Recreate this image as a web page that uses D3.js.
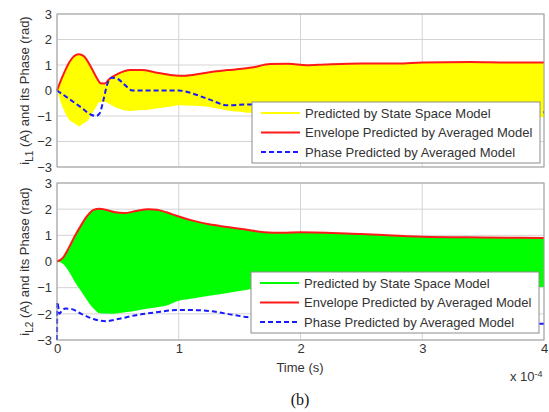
<!DOCTYPE html>
<html>
<head>
<meta charset="utf-8">
<script src="https://cdn.jsdelivr.net/npm/d3@7"></script>
<style>
    body { margin: 0; background: #fff; }
    svg { display: block; font-family: "Liberation Sans", Arial, sans-serif; }
</style>
</head>
<body>
<svg id="chart" width="549" height="412"></svg>
<script>
// time axis is in units of 1e-4 s
const xTicks = [0, 1, 2, 3, 4];
const yTicks = [-3, -2, -1, 0, 1, 2, 3];
const legendLabels = ['Predicted by State Space Model', 'Envelope Predicted by Averaged Model', 'Phase Predicted by Averaged Model'];

// panel 1 : iL1
const envTimeL1 = [0, 0.05, 0.1, 0.15, 0.18, 0.22, 0.27, 0.32, 0.36, 0.39, 0.43, 0.5, 0.6, 0.7, 0.8, 0.95, 1.05, 1.2, 1.4, 1.5, 1.6, 1.75, 1.9, 2.05, 2.2, 2.5, 2.8, 3.0, 3.4, 3.7, 4.0];
const envL1 = [0, 0.6, 1.1, 1.38, 1.42, 1.35, 1.0, 0.55, 0.28, 0.27, 0.45, 0.65, 0.8, 0.8, 0.72, 0.6, 0.58, 0.68, 0.8, 0.84, 0.9, 1.04, 1.05, 0.99, 1.02, 1.06, 1.06, 1.1, 1.12, 1.1, 1.1];
const lowTimeL1 = [0, 0.05, 0.1, 0.18, 0.25, 0.3, 0.35, 0.4, 0.5, 0.6, 0.75, 1.0, 1.2, 1.4, 1.6, 2.0, 3.0, 4.0];
const lowL1 = [0, -0.7, -1.15, -1.4, -1.2, -0.8, -0.45, -0.45, -0.7, -0.8, -0.75, -0.58, -0.62, -0.78, -0.88, -0.95, -1.02, -1.05];
const phaseTimeL1 = [0, 0.1, 0.2, 0.28, 0.32, 0.35, 0.38, 0.41, 0.45, 0.5, 0.55, 0.62, 0.8, 1.0, 1.1, 1.25, 1.4, 1.55, 1.7, 2.0, 3.0, 4.0];
const phaseL1 = [0, -0.33, -0.67, -0.95, -1.0, -0.9, -0.4, 0.2, 0.5, 0.45, 0.25, 0.0, 0.0, 0.0, -0.1, -0.35, -0.58, -0.55, -0.55, -0.6, -0.75, -0.85];

// panel 2 : iL2
const envTimeL2 = [0, 0.05, 0.1, 0.15, 0.2, 0.25, 0.3, 0.35, 0.4, 0.48, 0.55, 0.65, 0.75, 0.82, 0.9, 1.0, 1.1, 1.25, 1.4, 1.55, 1.7, 1.85, 2.0, 2.5, 3.0, 3.5, 4.0];
const envL2 = [0, 0.15, 0.55, 1.0, 1.4, 1.75, 1.97, 2.02, 1.98, 1.88, 1.85, 1.93, 2.0, 1.98, 1.88, 1.72, 1.58, 1.42, 1.32, 1.22, 1.12, 1.1, 1.12, 1.05, 0.95, 0.92, 0.9];
const lowTimeL2 = [0, 0.05, 0.1, 0.15, 0.2, 0.25, 0.3, 0.35, 0.45, 0.6, 0.75, 0.9, 1.0, 1.2, 1.4, 1.6, 1.75, 2.5, 4.0];
const lowL2 = [0, -0.1, -0.4, -0.8, -1.15, -1.5, -1.8, -1.98, -2.0, -1.92, -1.8, -1.68, -1.5, -1.35, -1.2, -1.05, -0.98, -0.95, -0.97];
const phaseTimeL2 = [0, 0.003, 0.02, 0.04, 0.07, 0.12, 0.2, 0.3, 0.4, 0.5, 0.65, 0.8, 1.0, 1.2, 1.4, 1.55, 1.7, 2.5, 4.0];
const phaseL2 = [-3, -1.55, -2.0, -1.88, -1.8, -1.82, -2.0, -2.2, -2.28, -2.2, -2.05, -1.95, -1.85, -1.87, -2.0, -2.12, -2.2, -2.3, -2.38];

const svg = d3.select('#chart');
const left = 57, right = 544;
const fontSize = 13;

const x = d3.scaleLinear().domain([0, 4]).range([left, right]);

function zip(ts, vs) {
    return ts.map((t, i) => ({ t: t, v: vs[i] }));
}

function drawPanel(cfg) {
    const y = d3.scaleLinear().domain([-3, 3]).range([cfg.bottom, cfg.top]);
    const g = svg.append('g');

    // grid
    g.selectAll('.gx').data(xTicks).join('line')
        .attr('x1', d => x(d)).attr('x2', d => x(d))
        .attr('y1', cfg.top).attr('y2', cfg.bottom)
        .attr('stroke', '#d4d4d4').attr('stroke-width', 1);
    g.selectAll('.gy').data(yTicks).join('line')
        .attr('x1', left).attr('x2', right)
        .attr('y1', d => y(d)).attr('y2', d => y(d))
        .attr('stroke', '#d4d4d4').attr('stroke-width', 1);

    // state space band, upper edge = envelope, lower edge read separately
    const upperAt = d3.scaleLinear().domain(cfg.envTime).range(cfg.env);
    const lowerAt = d3.scaleLinear().domain(cfg.lowTime).range(cfg.low);
    const bandTimes = d3.sort(d3.union(cfg.envTime, cfg.lowTime));
    const area = d3.area()
        .x(t => x(t))
        .y0(t => y(lowerAt(t)))
        .y1(t => y(upperAt(t)))
        .curve(d3.curveMonotoneX);
    g.append('path').datum(bandTimes)
        .attr('d', area)
        .attr('fill', cfg.color);

    // envelope
    const line = d3.line().x(d => x(d.t)).y(d => y(d.v)).curve(d3.curveMonotoneX);
    g.append('path').datum(zip(cfg.envTime, cfg.env))
        .attr('d', line)
        .attr('fill', 'none').attr('stroke', '#ff1a1a').attr('stroke-width', 2);

    // phase
    g.append('path').datum(zip(cfg.phaseTime, cfg.phase))
        .attr('d', line)
        .attr('fill', 'none').attr('stroke', '#1a1aff').attr('stroke-width', 2)
        .attr('stroke-dasharray', '5,3');

    // box
    g.append('rect')
        .attr('x', left).attr('y', cfg.top)
        .attr('width', right - left).attr('height', cfg.bottom - cfg.top)
        .attr('fill', 'none').attr('stroke', '#a0a0a0').attr('stroke-width', 1);

    // y axis labels
    const yAxis = d3.axisLeft(y).tickValues(yTicks).tickSize(0).tickPadding(5).tickFormat(d3.format('d'));
    const ya = g.append('g').attr('transform', `translate(${left},0)`).call(yAxis);
    ya.select('.domain').remove();
    ya.selectAll('text').attr('font-size', fontSize).attr('fill', '#333')
        .attr('font-family', '"Liberation Sans", Arial, sans-serif');

    if (cfg.showX) {
        const xAxis = d3.axisBottom(x).tickValues(xTicks).tickSize(0).tickPadding(4).tickFormat(d3.format('d'));
        const xa = g.append('g').attr('transform', `translate(0,${cfg.bottom})`).call(xAxis);
        xa.select('.domain').remove();
        xa.selectAll('text').attr('font-size', fontSize).attr('fill', '#333')
            .attr('font-family', '"Liberation Sans", Arial, sans-serif');
    }

    // y title
    const cy = (cfg.top + cfg.bottom) / 2;
    const title = g.append('text')
        .attr('transform', `translate(29,${cy}) rotate(-90)`)
        .attr('text-anchor', 'middle')
        .attr('font-size', fontSize).attr('fill', '#333');
    title.append('tspan').text('i');
    title.append('tspan').attr('baseline-shift', '-35%').attr('font-size', 10).text(cfg.sub);
    title.append('tspan').text(' (A) and its Phase (rad)');

    // legend
    const lg = g.append('g').attr('transform', `translate(${cfg.legendX},${cfg.legendY})`);
    lg.append('rect')
        .attr('width', 288).attr('height', 61)
        .attr('fill', '#fff').attr('stroke', '#8c8c8c').attr('stroke-width', 1);
    const rows = [
        { color: cfg.color, dash: null },
        { color: '#ff1a1a', dash: null },
        { color: '#1a1aff', dash: '5,3' }
    ];
    rows.forEach((r, i) => {
        const ry = 11 + i * 19.5;
        lg.append('line')
            .attr('x1', 9).attr('x2', 48).attr('y1', ry).attr('y2', ry)
            .attr('stroke', r.color).attr('stroke-width', 2)
            .attr('stroke-dasharray', r.dash);
        lg.append('text')
            .attr('x', 53).attr('y', ry).attr('dy', '0.36em')
            .attr('font-size', fontSize).attr('fill', '#333')
            .text(legendLabels[i]);
    });
}

drawPanel({
    top: 14, bottom: 167, color: '#ffff00', sub: 'L1',
    envTime: envTimeL1, env: envL1, lowTime: lowTimeL1, low: lowL1,
    phaseTime: phaseTimeL1, phase: phaseL1,
    legendX: 252, legendY: 102, showX: false
});

drawPanel({
    top: 183, bottom: 340, color: '#00ff00', sub: 'L2',
    envTime: envTimeL2, env: envL2, lowTime: lowTimeL2, low: lowL2,
    phaseTime: phaseTimeL2, phase: phaseL2,
    legendX: 251, legendY: 272, showX: true
});

// x title and multiplier
svg.append('text')
    .attr('x', 300).attr('y', 372)
    .attr('text-anchor', 'middle')
    .attr('font-size', fontSize).attr('fill', '#333')
    .text('Time (s)');

const mult = svg.append('text')
    .attr('x', 510).attr('y', 381)
    .attr('font-size', fontSize).attr('fill', '#333');
mult.append('tspan').text('x 10');
mult.append('tspan').attr('baseline-shift', '45%').attr('font-size', 9).text('-4');

svg.append('text')
    .attr('x', 300).attr('y', 405)
    .attr('text-anchor', 'middle')
    .attr('font-family', '"Liberation Serif", "Times New Roman", serif')
    .attr('font-size', 16).attr('fill', '#111')
    .text('(b)');
</script>
</body>
</html>
